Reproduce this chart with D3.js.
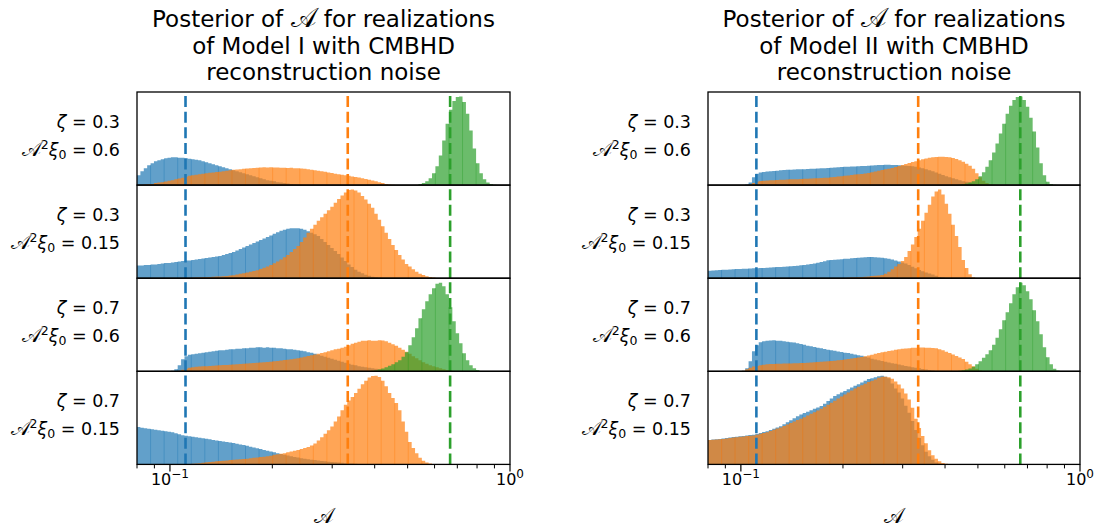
<!DOCTYPE html>
<html>
<head>
<meta charset="utf-8">
<script src="https://cdn.jsdelivr.net/npm/d3@7"></script>
<style>
  body { margin: 0; background: #fff; }
  text { font-family: "DejaVu Sans", sans-serif; fill: #000; }
</style>
</head>
<body>
<svg id="chart" width="1102" height="527"></svg>
<script>
// Log-spaced histogram bins shared by every panel
const binLow = 0.08, binHigh = 1.0, binCount = 110;

// Injected true amplitudes (dashed reference lines), one per colour
const truthValues = [1 / 9, 1 / 3, 2 / 3];

const columnTitles = [
  ["Posterior of 𝒜 for realizations", "of Model I with CMBHD", "reconstruction noise"],
  ["Posterior of 𝒜 for realizations", "of Model II with CMBHD", "reconstruction noise"]
];
const zetaValues = ["0.3", "0.3", "0.7", "0.7"];
const ampValues = ["0.6", "0.15", "0.6", "0.15"];
const seriesColors = ["#1f77b4", "#ff7f0e", "#2ca02c"];
const xMajorTicks = [0.1, 1];
const xMinorTicks = [0.08, 0.09, 0.2, 0.3, 0.4, 0.5, 0.6, 0.7, 0.8, 0.9];

// Posterior histograms (density, arbitrary units); start = first non-empty bin
const modelI_row1_blue = { start: 0, counts: [10,14,17,20,22,24,25,26,27,27.5,28,28,27.5,27.5,27,26.5,26,25.5,25,24,23,22,21,20,19,18,17,16,15,14,13,12,11,10,9,8,7,6,5,4.5,4,3,2.5,2,1.5,1,0.7,0.4] };
const modelI_row1_orange = { start: 2, counts: [0.5,0.8,1.2,2,2.5,3,3.6,4.3,5,5.8,6.6,7.5,8.5,9.5,10,10.5,11,11.5,12,12.4,12.8,13.2,13.6,14,14.5,15,15.5,15.8,16.1,16.4,16.7,17,17.2,17.5,17.8,18,17.8,18,17.7,17.8,17.5,17.6,17.3,17.4,17.1,17,16.8,16.5,16,15.5,15,14.5,14,13.4,12.8,12.2,11.5,11,10.4,9.9,9.4,8.8,8.2,7.6,7,6.2,5.4,4.6,3.8,3,2,1.2,0.6,0.3] };
const modelI_row1_green = { start: 83, counts: [1,2,4,7,12,19,30,45,62,76,85,89,89.5,84,72,55,37,22,12,6,2.5,1,0.3] };

const modelI_row2_blue = { start: 0, counts: [12.5,12.5,13,13,13.5,13.5,14,14.5,15,15,15.5,16,16.5,17,17.5,17.5,18,18.5,19,19.5,20,20.5,21,21.5,22,23,24,25,26,27.5,29,30.5,32,33.5,35,36.5,38,39.5,41,42.5,44,45.5,47,48,49,49.5,49.5,49.5,49,48,46.5,45,43.5,42,39,36,33,30,27,24,20.5,17,13.5,11,8.5,6.5,5,3.5,2.5,1.5,1,0.5] };
const modelI_row2_orange = { start: 15, counts: [0.3,0.5,0.6,0.8,0.9,1,1.2,1.4,1.6,1.8,2,2.3,2.7,3,3.6,4.3,5,5.7,6.5,7.2,8,9.2,10.3,11.5,13,14.8,16.5,18.5,20.8,23,26,29,32,36,40.5,45,49,53,57,60.5,64,67.5,71,75,78.5,82,85,87.5,88,87,85,81.5,78,74,70,64,58,51.5,45,39,33,28,23,18.5,14,11.5,9,6.5,4.5,3.2,2,1.2,0.7,0.3] };

const modelI_row3_blue = { start: 10, counts: [0.5,2,6,12,15,16.5,17,17.5,18,18.5,19,19.5,20,20.5,21,21,21.5,22,22,22.5,22.5,23,23,23.5,23.5,24,24,23.5,24,23.5,23.5,23,23,22.5,22,22,21.5,21,20.5,20,19,18.5,17.5,16.5,15.5,14.5,13.5,12.5,11.5,10.5,9.5,8.5,7.5,6.5,6,5,4.5,4,3.5,3,2.5,2,1.5,1,0.7,0.4] };
const modelI_row3_orange = { start: 12, counts: [0.5,1.5,2.5,3.5,4,4.5,4.8,5,5,5.3,5.5,5.8,6,6.2,6.4,6.6,6.8,7,7.2,7.5,7.8,8,8.3,8.5,8.8,9,9.3,9.6,10,10.4,10.8,11.2,11.6,12,12.5,13,13.8,14.5,15.2,16,16.8,17.5,18.3,19,20,21,22,22.5,23.5,24.5,26,27.5,28.5,29.5,30.5,30.5,31,30.5,30.5,31,30.8,30,28.5,27,25.5,23.5,21.5,19.5,17.5,15,13,11,9,7.5,6,5,4,3,2,1.3,0.8,0.4] };
const modelI_row3_green = { start: 69, counts: [0.5,1,1.8,2.8,4,5.5,7,9,11,14.5,19,26,34,43,53,62,70,77,83,87.5,88.5,85,77,64,50,38,28,18,11,6,3,1.2,0.4] };

const modelI_row4_blue = { start: 0, counts: [36.5,36,35.5,35,34.5,34,33.5,33,32.5,32,31.5,30.5,29.5,28.5,28,27.5,27,26.5,26,25.5,25,24.5,24,23.5,23,22.5,22,21.5,21,20.3,19.6,18.9,18.2,17.4,16.6,15.8,15,14.2,13.4,12.6,11.8,11,10.2,9.4,8.7,8,7.3,6.7,6.1,5.6,5.1,4.6,4.2,3.8,3.4,3,2.7,2.4,2.1,1.8,1.5,1.2,1,0.8,0.6,0.4,0.3] };
const modelI_row4_orange = { start: 15, counts: [0.3,0.6,0.9,1.2,1.5,2,2.3,2.6,3,3.3,3.6,3.9,4.2,4.5,4.8,5,5.3,5.6,6,6.4,6.8,7.2,7.6,8,8.5,9.5,10,10.5,11,11.8,12.6,13.4,14.2,15,16,17,18.5,20.5,23.5,26.5,30,33.5,37,42,47,53,58.5,62.5,66,70,74,78.5,82,85,86.5,86.8,85.5,82,76.5,70,65,60,53,42,32,22,16,11,6.5,3.5,1.8,0.8,0.3] };

const modelII_row1_blue = { start: 11, counts: [0.5,2.5,8,11.5,12.8,13.3,13.7,14,14.3,14.6,15,15.2,15.5,15.6,15.8,15.9,16,16.1,16.3,16.4,16.5,16.7,16.9,17.1,17.3,17.5,17.7,18,18.2,18.4,18.5,18.7,18.9,19,19.2,19.4,19.5,19.8,20,20.2,20.3,20.5,20.5,20.4,20.3,20.1,19.9,19.6,19.3,19,18.5,17.8,17,16,15,14,12.8,11.5,10.3,9,8,7,6,5,4,3.3,2.5,1.7,1,0.5,0.2] };
const modelII_row1_orange = { start: 12, counts: [0.5,2,3.5,4.2,4.5,4.7,4.8,5,5.1,5.3,5.4,5.6,5.8,5.9,6,6.2,6.3,6.5,6.6,6.8,7,7.1,7.3,7.5,7.8,8.2,8.6,9,9.4,9.8,10.2,10.6,11,11.3,11.8,12.2,13,13.8,14.5,15.2,15.9,16.6,17.2,18.2,19.2,20.2,21.2,22.2,23.2,24,25,26,26.8,27.5,28,28.3,28.5,28.6,28.4,28,27.3,26.3,25,23.5,21.5,19.5,16.5,12,8,4.5,2.2,0.8,0.3] };
const modelII_row1_green = { start: 74, counts: [0.3,0.8,1.5,2.5,4,6,9,13,18.5,25,33,42,52,62,72,80,86,89,89.5,86,79,68,54,38,22,10,3.5,1,0.3] };

const modelII_row2_blue = { start: 0, counts: [7.5,7.7,7.9,8.1,8.3,8.5,8.7,9,9.1,9.2,9.4,9.5,9.6,9.8,9.9,10.1,10.2,10.4,10.6,10.8,11,11.2,11.4,11.6,11.8,12,12.4,12.8,13.2,13.7,14.1,14.5,15.3,16.1,16.9,17.7,18,18.3,18.6,18.9,19.2,19.4,19.7,20,20.3,20.6,20.8,21,21,20.8,20.6,20.3,19.8,19.2,18.6,17.6,16.6,15.6,14.6,13,11.4,9.8,8.2,6.9,5.7,4.6,3.6,2.4,1.3,0.6,0.2] };
const modelII_row2_orange = { start: 40, counts: [0.2,0.4,0.6,0.8,1,1.2,1.5,1.8,2.1,2.4,2.6,3.2,4.5,6.5,9,11.5,14,17,21,27,33.5,41,49,57,65,73,81,86,88,83,74,64,53,42,31,18,10,4,1,0.3] };

const modelII_row3_blue = { start: 10, counts: [0.5,3,10,20,26,29,30,30.5,30.8,31,30.5,30.5,30,29.5,29,28.8,28,27.3,26.5,25.5,25,24.3,23.6,23,22.2,21.5,21,20.4,19.8,19.2,18.6,18.2,17.5,16.8,16,15.5,14.6,13.7,12.6,11.8,11,10.2,9.5,8.8,8.1,7.5,6.8,6.1,5.4,4.7,4.1,3.5,3,2.4,1.8,1.3,0.8,0.4] };
const modelII_row3_orange = { start: 10, counts: [0.5,2,3.5,4.8,5.4,6,6.6,7.1,7.3,7.4,7.5,7.6,7.7,7.8,7.9,8,8.1,8.2,8.4,8.6,8.8,9,9.3,9.6,9.8,10,10.3,10.5,11,11.4,11.9,12.3,12.8,13.3,13.8,14.3,15,15.8,16.6,17.4,18.2,19,19.6,20.2,20.8,21.4,22,22.4,22.8,23.1,23.4,23.6,23.8,23.8,23.6,23.5,23.3,23,22,21,19.6,18.2,16.8,15.3,13.8,12.2,9.5,7,5,2.5,0.8,0.3] };
const modelII_row3_green = { start: 74, counts: [0.5,1,1.8,2.8,4.5,7,10,13.5,17,21,26.5,33.5,42,51,59,68,77,84,88.5,86,80,72,61,50,37,24,14,7,2.5,0.7] };

const modelII_row4_blue = { start: 0, counts: [24,24.5,24.8,25.2,25.6,26,26.5,27,27.3,27.7,28,28.5,29,29.3,30,31,32,32.8,34,35.3,36.5,37.6,39.6,41.6,43.6,45.6,47.6,49.3,50.7,52,53.4,55,56.3,57.6,60,62.6,65,67.6,69.3,71,72.6,74.3,76,77.6,79.3,80.9,82.6,84.3,85.2,86.1,87,87.6,86.5,85,80,75,71,65,58,51,43,34,26,19,12.5,8,4.5,2,0.8,0.3] };
const modelII_row4_orange = { start: 0, counts: [24,24.3,24.6,24.9,25.2,25.6,26,26.5,26.9,27.3,27.6,28,28.2,28.5,29.3,30.2,31,31.8,33,34.3,35.5,36.5,38,39.5,41,42.5,43.8,45,46.6,48.3,50,51.6,53.3,55,57,59,61,63,65,67,69,71,73,75,76.7,78.3,79.8,81.3,82.7,84,85.5,86.6,86.6,86.2,84.5,82,79,75,70,64,56,45,36,28,21,14,9,5.5,3,1.5,0.6,0.2] };

// Panels per column (top to bottom); each lists [blue, orange, green] histograms
const panels = [
  [
    [modelI_row1_blue, modelI_row1_orange, modelI_row1_green],
    [modelI_row2_blue, modelI_row2_orange, null],
    [modelI_row3_blue, modelI_row3_orange, modelI_row3_green],
    [modelI_row4_blue, modelI_row4_orange, null]
  ],
  [
    [modelII_row1_blue, modelII_row1_orange, modelII_row1_green],
    [modelII_row2_blue, modelII_row2_orange, null],
    [modelII_row3_blue, modelII_row3_orange, modelII_row3_green],
    [modelII_row4_blue, modelII_row4_orange, null]
  ]
];

// ---- layout ----
const svg = d3.select("#chart");
const columnX = [[137, 510], [708, 1080]];
const rowTop = 92, rowHeight = 93.1, nRows = 4;
const fontMain = 17.5;

const edges = d3.range(binCount + 1).map(i => binLow * Math.pow(binHigh / binLow, i / binCount));

columnX.forEach((cx, c) => {
  const x = d3.scaleLog().domain([binLow, binHigh]).range(cx);
  const xMid = (cx[0] + cx[1]) / 2;

  // column title; the script A is set slightly larger to match the cap height
  const title = svg.append("text")
    .attr("text-anchor", "middle")
    .style("font-size", "23px");
  columnTitles[c].forEach((line, k) => {
    const row = title.append("tspan").attr("x", xMid).attr("y", 27 + k * 26.5);
    line.split("𝒜").forEach((part, p) => {
      if (p > 0) row.append("tspan").style("font-size", "27px").text("𝒜");
      if (part) row.append("tspan").text(part);
    });
  });

  panels[c].forEach((series, r) => {
    const top = rowTop + r * rowHeight, bottom = top + rowHeight;
    const maxCount = d3.max(series.filter(s => s), s => d3.max(s.counts));
    const y = d3.scaleLinear().domain([0, maxCount * 1.05]).range([bottom, top]);

    const clipId = `clip-${c}-${r}`;
    svg.append("clipPath").attr("id", clipId)
      .append("rect").attr("x", cx[0]).attr("y", top).attr("width", cx[1] - cx[0]).attr("height", rowHeight);

    const g = svg.append("g").attr("clip-path", `url(#${clipId})`);

    const area = d3.area()
      .x(d => x(d.v))
      .y0(y(0))
      .y1(d => y(d.h))
      .curve(d3.curveStepAfter);

    series.forEach((s, k) => {
      if (!s) return;
      const pts = s.counts.map((h, j) => ({ v: edges[s.start + j], h }));
      pts.push({ v: edges[s.start + s.counts.length], h: s.counts[s.counts.length - 1] });
      g.append("path")
        .attr("d", area(pts))
        .attr("fill", seriesColors[k])
        .attr("fill-opacity", 0.7);

      // faint bar-edge seams every few bins
      const seams = s.counts.map((h, j) => ({ idx: s.start + j, h: Math.min(h, j > 0 ? s.counts[j - 1] : 0) }))
        .filter(d => d.idx % 4 === 0 && d.h > 0);
      g.selectAll(null).data(seams).enter().append("line")
        .attr("x1", d => x(edges[d.idx])).attr("x2", d => x(edges[d.idx]))
        .attr("y1", y(0)).attr("y2", d => y(d.h))
        .attr("stroke", seriesColors[k])
        .attr("stroke-opacity", 0.45)
        .attr("stroke-width", 0.9);
    });

    // dashed truth lines, drawn from the bottom up
    truthValues.forEach((v, k) => {
      g.append("line")
        .attr("x1", x(v)).attr("x2", x(v))
        .attr("y1", bottom).attr("y2", top)
        .attr("stroke", seriesColors[k])
        .attr("stroke-width", 2.6)
        .attr("stroke-dasharray", "11,4.6");
    });

    // frame
    svg.append("rect")
      .attr("x", cx[0]).attr("y", top)
      .attr("width", cx[1] - cx[0]).attr("height", rowHeight)
      .attr("fill", "none").attr("stroke", "#000").attr("stroke-width", 1.3);

    // row labels
    const labelX = cx[0] - 17;
    const mid = (top + bottom) / 2;
    const l1 = svg.append("text").attr("x", labelX).attr("y", mid - 11)
      .attr("text-anchor", "end").style("font-size", fontMain + "px");
    l1.append("tspan").style("font-style", "italic").text("ζ");
    l1.append("tspan").text(" = " + zetaValues[r]);

    const l2 = svg.append("text").attr("x", labelX).attr("y", mid + 17)
      .attr("text-anchor", "end").style("font-size", fontMain + "px");
    l2.append("tspan").style("font-size", "20px").text("𝒜");
    l2.append("tspan").attr("dy", -7).style("font-size", "12.5px").text("2");
    l2.append("tspan").attr("dy", 7).style("font-style", "italic").text("ξ");
    l2.append("tspan").attr("dy", 3.5).style("font-size", "12.5px").text("0");
    l2.append("tspan").attr("dy", -3.5).text(" = " + ampValues[r]);
  });

  // bottom x axis
  const axisY = rowTop + nRows * rowHeight;
  const ax = svg.append("g");
  xMinorTicks.forEach(v => {
    ax.append("line").attr("x1", x(v)).attr("x2", x(v))
      .attr("y1", axisY).attr("y2", axisY + 4)
      .attr("stroke", "#000").attr("stroke-width", 1);
  });
  xMajorTicks.forEach(v => {
    ax.append("line").attr("x1", x(v)).attr("x2", x(v))
      .attr("y1", axisY).attr("y2", axisY + 7)
      .attr("stroke", "#000").attr("stroke-width", 1.2);
    const exp = Math.round(Math.log10(v));
    const t = ax.append("text").attr("x", x(v)).attr("y", axisY + 21)
      .attr("text-anchor", "middle").style("font-size", "16px");
    t.append("tspan").text("10");
    t.append("tspan").attr("dy", -7).style("font-size", "12px")
      .text(exp < 0 ? "−" + Math.abs(exp) : String(exp));
  });
  svg.append("text").attr("x", xMid).attr("y", 523)
    .attr("text-anchor", "middle").style("font-size", "21px").text("𝒜");
});
</script>
</body>
</html>
